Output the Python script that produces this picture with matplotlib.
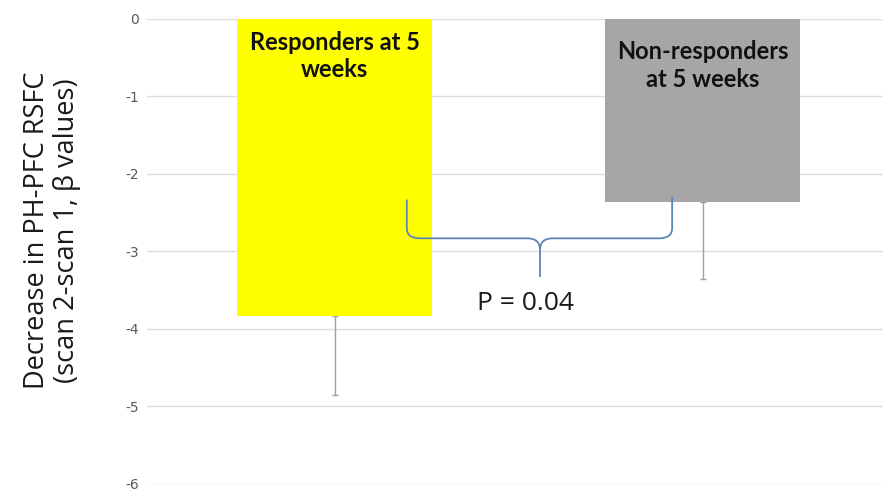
import matplotlib.pyplot as plt
from matplotlib.path import Path
from matplotlib.patches import PathPatch

groups = ["Responders at 5\nweeks", "Non-responders\nat 5 weeks"]
means = [-3.83, -2.36]
errors = [1.02, 1.0]
bar_colors = ["#ffff00", "#a6a6a6"]
yticks = [0, -1, -2, -3, -4, -5, -6]
p_text = "P = 0.04"

# brace between the two groups (data coords)
brace_left, brace_right, brace_mid = 0.196, 0.917, 0.558
brace_top_left, brace_top_right = -2.33, -2.30
brace_level, brace_tip = -2.83, -3.33

fig = plt.figure(figsize=(8.83, 4.93), dpi=100)
ax = fig.add_axes([0.1665, 0.0183, 0.8335, 0.9432])

x = list(range(len(groups)))
ax.bar(x, means, width=0.53, color=bar_colors, zorder=2)
ax.errorbar(x, means, yerr=[errors, [0, 0]], fmt="none", ecolor="#a0a0a0",
            elinewidth=1, capsize=2, zorder=1)

for xi, label, ty in zip(x, groups, [0.975, 0.955]):
    ax.text(xi, ty, label, transform=ax.get_xaxis_transform(), ha="center",
            va="top", fontsize=17, fontweight="bold", family="Lato",
            linespacing=1.25, color="#111111")

r = 0.035
verts = [
    (brace_left, brace_top_left), (brace_left, brace_level + 0.13),
    (brace_left, brace_level), (brace_left + r, brace_level),
    (brace_mid - r, brace_level), (brace_mid, brace_level),
    (brace_mid, brace_level - 0.15), (brace_mid, brace_tip),
    (brace_mid, brace_level - 0.15), (brace_mid, brace_level),
    (brace_mid + r, brace_level), (brace_right - r, brace_level),
    (brace_right, brace_level), (brace_right, brace_level + 0.13),
    (brace_right, brace_top_right),
]
codes = [Path.MOVETO, Path.LINETO, Path.CURVE3, Path.CURVE3, Path.LINETO,
         Path.CURVE3, Path.CURVE3, Path.LINETO, Path.MOVETO, Path.CURVE3,
         Path.CURVE3, Path.LINETO, Path.CURVE3, Path.CURVE3, Path.LINETO]
ax.add_patch(PathPatch(Path(verts, codes), fill=False, edgecolor="#5b87b8",
                       linewidth=1.3, zorder=3))

ax.text(brace_mid - 0.04, -3.67, p_text, ha="center", va="center",
        fontsize=19, family="Open Sans", color="#1a1a1a")

ax.set_xlim(-0.51, 1.49)
ax.set_ylim(-6, 0)
ax.set_yticks(yticks)
ax.set_yticklabels([str(t) for t in yticks])
ax.set_xticks([])
ax.tick_params(axis="y", length=0, pad=6, labelsize=10, labelcolor="#595959")
ax.yaxis.grid(True, color="#dedede", linewidth=1)
ax.set_axisbelow(True)
for s in ax.spines.values():
    s.set_visible(False)

ax.set_ylabel("Decrease in PH-PFC RSFC\n(scan 2-scan 1, β values)",
              fontsize=19.5, family="Open Sans", linespacing=1.1,
              color="#1a1a1a")
ax.yaxis.set_label_coords(-0.09, 0.545)

fig.savefig("out.png", dpi=100)
